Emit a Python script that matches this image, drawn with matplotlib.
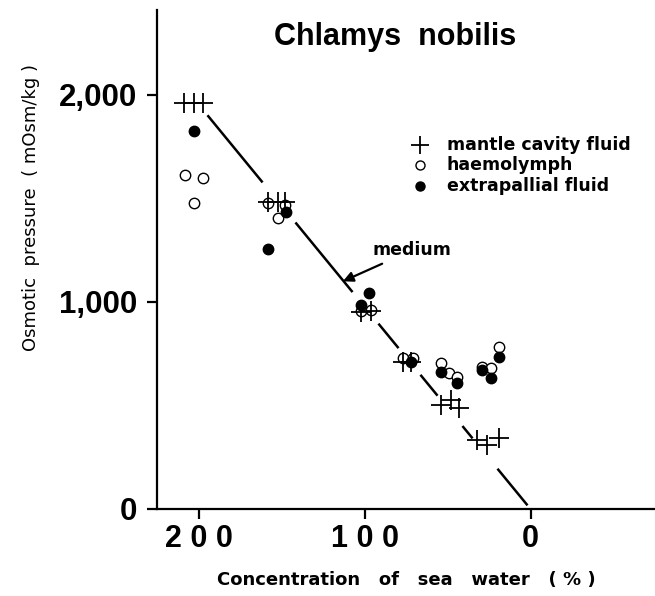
import numpy as np
import matplotlib
matplotlib.use("Agg")
import matplotlib.pyplot as plt

plt.rcParams['font.family'] = ['Liberation Sans', 'DejaVu Sans']

# concentration of sea water (%) and osmotic pressure (mOsm/kg)
mantle_conc = [209, 203, 197, 158, 152, 148, 102, 96, 77, 72, 54, 48, 43, 32, 26, 19]
mantle_osm = [1961, 1961, 1961, 1483, 1483, 1483, 952, 957, 710, 710, 502, 527, 488, 333, 309, 343]

haemo_conc = [208, 197, 203, 158, 148, 152, 96, 102, 77, 71, 54, 49, 44, 29, 24, 19]
haemo_osm = [1614, 1599, 1478, 1478, 1469, 1406, 961, 957, 729, 729, 705, 657, 638, 686, 681, 783]

extra_conc = [203, 147, 158, 97, 102, 72, 54, 44, 29, 24, 19]
extra_osm = [1826, 1435, 1256, 1043, 986, 710, 662, 609, 671, 633, 734]

# medium line: osmotic pressure of the water itself
medium_conc = [200, 0]
medium_osm = [1955, 0]
# pieces of the medium line that are drawn (gaps left around the points)
medium_pieces = [(194.6, 161.4), (141.6, 107.2), (91.6, 79.5), (66.3, 56.0), (41.0, 34.9), (19.9, 1.8)]

fig = plt.figure(figsize=(6.55, 5.96), dpi=100)
ax = fig.add_axes([0.2397, 0.146, 0.7603, 0.837])

slope = (medium_osm[0] - medium_osm[1]) / (medium_conc[0] - medium_conc[1])
for a, b in medium_pieces:
    xs = np.array([a, b])
    ax.plot(xs, slope * xs, color='black', lw=1.8, solid_capstyle='butt')

ax.plot(haemo_conc, haemo_osm, 'o', ms=7.5, mfc='white', mec='black', mew=1.0, ls='none', zorder=3)
ax.plot(extra_conc, extra_osm, 'o', ms=7.5, mfc='black', mec='black', ls='none', zorder=4)
ax.plot(mantle_conc, mantle_osm, '+', ms=14, mew=1.3, color='black', ls='none', zorder=5)

ax.set_xlim(225, -75)
ax.set_ylim(0, 2410)
ax.set_xticks([200, 100, 0])
ax.set_xticklabels(['2 0 0', '1 0 0', '0'])
ax.set_yticks([0, 1000, 2000])
ax.set_yticklabels(['0', '1,000', '2,000'])

for s in ['top', 'right']:
    ax.spines[s].set_visible(False)
ax.spines['left'].set_linewidth(1.6)
ax.spines['bottom'].set_linewidth(1.6)
ax.tick_params(axis='both', direction='out', length=7, width=1.6)
ax.tick_params(axis='y', pad=7)
ax.tick_params(axis='x', pad=4)
for lab in ax.get_xticklabels():
    lab.set_fontsize(22)
    lab.set_fontweight('bold')
for lab in ax.get_yticklabels():
    lab.set_fontsize(22.5)
    lab.set_fontweight('bold')

ax.set_xlabel('Concentration   of   sea   water   ( % )', fontsize=13, fontweight='bold',
              family=['DejaVu Sans'], labelpad=12)
ax.set_ylabel('Osmotic  pressure  ( mOsm/kg )', fontsize=13, family=['DejaVu Sans'])
ax.yaxis.set_label_coords(-0.235, 0.605)

ax.text(0.478, 0.976, 'Chlamys  nobilis', transform=ax.transAxes, ha='center', va='top',
        fontsize=22, fontweight='bold')

# legend drawn by hand
leg_x_marker = 0.528
leg_x_text = 0.582
leg_rows = [0.729, 0.689, 0.647]
ax.plot([leg_x_marker], [leg_rows[0]], '+', ms=13, mew=1.3, color='black', transform=ax.transAxes)
ax.plot([leg_x_marker], [leg_rows[1]], 'o', ms=6.5, mfc='white', mec='black', transform=ax.transAxes)
ax.plot([leg_x_marker], [leg_rows[2]], 'o', ms=6.5, mfc='black', mec='black', transform=ax.transAxes)
for y, t in zip(leg_rows, ['mantle cavity fluid', 'haemolymph', 'extrapallial fluid']):
    ax.text(leg_x_text, y, t, transform=ax.transAxes, ha='left', va='center',
            fontsize=12.5, fontweight='bold', family=['DejaVu Sans'])

ax.annotate('medium', xy=(113, 1100), xytext=(95, 1250), fontsize=12.5, fontweight='bold',
            family=['DejaVu Sans'], ha='left', va='center',
            arrowprops=dict(arrowstyle='-|>', color='black', lw=1.6, mutation_scale=15,
                            shrinkA=3, shrinkB=0))

fig.savefig('out.png', dpi=100)
